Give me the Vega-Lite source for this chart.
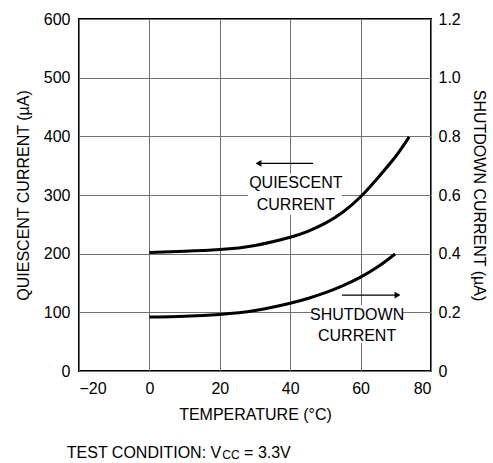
{
  "$schema": "https://vega.github.io/schema/vega-lite/v6.json",
  "width": 352,
  "height": 352,
  "autosize": "none",
  "padding": {"left": 79, "top": 19, "right": 62, "bottom": 92},
  "background": "white",
  "config": {
    "font": "Liberation Sans, sans-serif",
    "view": {"stroke": "black", "strokeWidth": 2},
    "axis": {
      "domain": false,
      "ticks": false,
      "labelFont": "Liberation Sans, sans-serif",
      "titleFont": "Liberation Sans, sans-serif",
      "labelFontSize": 16,
      "titleFontSize": 16,
      "titleFontWeight": "normal",
      "labelColor": "black",
      "titleColor": "black",
      "gridColor": "#707070",
      "gridWidth": 1,
      "gridOpacity": 1
    },
    "text": {"font": "Liberation Sans, sans-serif", "fontSize": 16, "color": "black"}
  },
  "datasets": {
    "quiescent": [
      {"temp": 0, "q": 202}, {"temp": 10, "q": 204}, {"temp": 20, "q": 207},
      {"temp": 30, "q": 214}, {"temp": 40, "q": 228}, {"temp": 45, "q": 238},
      {"temp": 50, "q": 252}, {"temp": 55, "q": 271}, {"temp": 60, "q": 297},
      {"temp": 65, "q": 330}, {"temp": 70, "q": 366}, {"temp": 73.8, "q": 399}
    ],
    "shutdown": [
      {"temp": 0, "s": 0.184}, {"temp": 10, "s": 0.187}, {"temp": 20, "s": 0.193},
      {"temp": 30, "s": 0.206}, {"temp": 40, "s": 0.231}, {"temp": 45, "s": 0.247},
      {"temp": 50, "s": 0.267}, {"temp": 55, "s": 0.291}, {"temp": 60, "s": 0.32},
      {"temp": 65, "s": 0.356}, {"temp": 69.8, "s": 0.399}
    ],
    "boxes": [
      {"x1": 28, "x2": 54.7, "y1": 266, "y2": 337},
      {"x1": 46.2, "x2": 72, "y1": 48, "y2": 112}
    ],
    "labels": [
      {"x": 41.6, "y": 320, "label": "QUIESCENT"},
      {"x": 41.6, "y": 283, "label": "CURRENT"},
      {"x": 59, "y": 95, "label": "SHUTDOWN"},
      {"x": 59, "y": 59, "label": "CURRENT"}
    ],
    "arrows": [
      {"x1": 46.5, "x2": 31, "y": 354, "dir": "left"},
      {"x1": 54.7, "x2": 70.5, "y": 129.5, "dir": "right"}
    ],
    "footer": [
      {"x": 20.4, "y": -140, "label": "TEST CONDITION: V"}
    ],
    "footersub": [
      {"x": 20.7, "y": -143.5, "label": "CC"}
    ],
    "footerend": [
      {"x": 26.9, "y": -140, "label": "= 3.3V"}
    ]
  },
  "layer": [
    {
      "layer": [
        {
          "data": {"name": "boxes"},
          "mark": {"type": "rect", "fill": "white", "stroke": null},
          "encoding": {
            "x": {"field": "x1", "type": "quantitative", "scale": {"domain": [-20, 80], "nice": false},
              "axis": {"values": [-20, 0, 20, 40, 60, 80], "grid": true, "title": "TEMPERATURE (°C)", "labelPadding": 9, "titlePadding": 10}},
            "x2": {"field": "x2"},
            "y": {"field": "y1", "type": "quantitative", "scale": {"domain": [0, 600], "nice": false},
              "axis": {"values": [0, 100, 200, 300, 400, 500, 600], "grid": true, "orient": "left", "title": "QUIESCENT CURRENT (µA)", "labelPadding": 9, "titlePadding": 12}},
            "y2": {"field": "y2"}
          }
        },
        {
          "data": {"name": "quiescent"},
          "mark": {"type": "line", "color": "black", "strokeWidth": 3, "interpolate": "natural"},
          "encoding": {
            "x": {"field": "temp", "type": "quantitative"},
            "y": {"field": "q", "type": "quantitative"}
          }
        },
        {
          "data": {"name": "labels"},
          "mark": {"type": "text", "align": "center", "baseline": "middle"},
          "encoding": {
            "x": {"field": "x", "type": "quantitative"},
            "y": {"field": "y", "type": "quantitative"},
            "text": {"field": "label"}
          }
        },
        {
          "data": {"name": "arrows"},
          "mark": {"type": "rule", "color": "black", "strokeWidth": 1.3},
          "encoding": {
            "x": {"field": "x1", "type": "quantitative"},
            "x2": {"field": "x2"},
            "y": {"field": "y", "type": "quantitative"}
          }
        },
        {
          "data": {"name": "arrows"},
          "mark": {"type": "point", "filled": true, "color": "black", "opacity": 1, "size": 45},
          "encoding": {
            "x": {"field": "x2", "type": "quantitative"},
            "y": {"field": "y", "type": "quantitative"},
            "shape": {"field": "dir", "type": "nominal", "scale": {"domain": ["left", "right"], "range": ["triangle-left", "triangle-right"]}, "legend": null}
          }
        },
        {
          "data": {"name": "footer"},
          "mark": {"type": "text", "align": "right", "baseline": "middle"},
          "encoding": {
            "x": {"field": "x", "type": "quantitative"},
            "y": {"field": "y", "type": "quantitative"},
            "text": {"field": "label"}
          }
        },
        {
          "data": {"name": "footersub"},
          "mark": {"type": "text", "align": "left", "baseline": "middle", "fontSize": 12},
          "encoding": {
            "x": {"field": "x", "type": "quantitative"},
            "y": {"field": "y", "type": "quantitative"},
            "text": {"field": "label"}
          }
        },
        {
          "data": {"name": "footerend"},
          "mark": {"type": "text", "align": "left", "baseline": "middle"},
          "encoding": {
            "x": {"field": "x", "type": "quantitative"},
            "y": {"field": "y", "type": "quantitative"},
            "text": {"field": "label"}
          }
        }
      ]
    },
    {
      "data": {"name": "shutdown"},
      "mark": {"type": "line", "color": "black", "strokeWidth": 3, "interpolate": "natural"},
      "encoding": {
        "x": {"field": "temp", "type": "quantitative"},
        "y": {"field": "s", "type": "quantitative", "scale": {"domain": [0, 1.2], "nice": false},
          "axis": {"orient": "right", "values": [0, 0.2, 0.4, 0.6, 0.8, 1.0, 1.2], "grid": false, "title": "SHUTDOWN CURRENT (µA)", "labelExpr": "datum.value == 0 ? '0' : format(datum.value, '.1f')", "labelPadding": 7, "titlePadding": 10}}
      }
    }
  ],
  "resolve": {"scale": {"y": "independent"}}
}
